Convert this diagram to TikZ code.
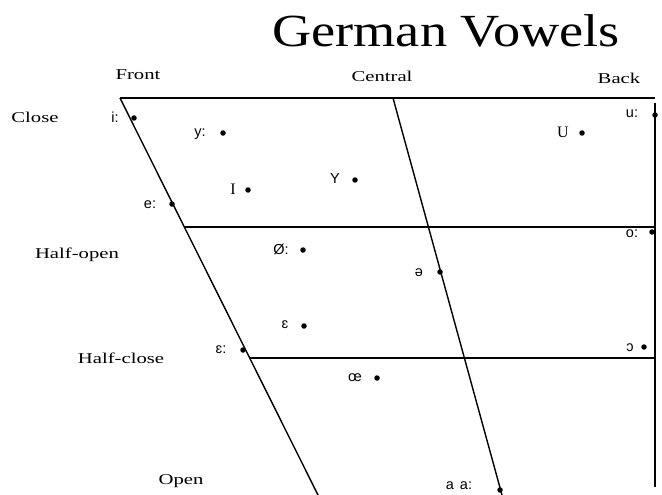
\documentclass[tikz,border=0pt]{standalone}
\usepackage{fontspec}
\setmainfont{Liberation Serif}
\newfontfamily\ipafont{Liberation Sans}
\begin{document}
\begin{tikzpicture}[x=1pt,y=-1pt,
  chartline/.style={line width=1.4pt,black},
  vdot/.style={circle,fill=black,inner sep=0pt,minimum size=5.5pt},
  ipa/.style={inner sep=0pt,font=\ipafont\fontsize{14.5}{14.5}\selectfont},
  ipaserif/.style={inner sep=0pt,font=\fontsize{16}{16}\selectfont},
  axislabel/.style={inner sep=0pt,font=\fontsize{15}{15}\selectfont,xscale=1.38,transform shape},
  titlelabel/.style={inner sep=0pt,font=\fontsize{46}{46}\selectfont,xscale=1.18,transform shape}]
\useasboundingbox[fill=white] (0,0) rectangle (662,495);
% frame coordinates
\coordinate (TL) at (120,98);
\coordinate (TR) at (655,98);
\coordinate (RT) at (655,103);
\coordinate (RB) at (655,487);
\coordinate (LB) at (318,495);
\coordinate (CT) at (393,98);
\coordinate (CB) at (502,495);
\coordinate (H1L) at (184,227);
\coordinate (H1R) at (655,227);
\coordinate (H2L) at (250,358);
\coordinate (H2R) at (655,358);
\draw[chartline] (TL) -- (TR);
\draw[chartline] (RT) -- (RB);
\draw[chartline] (TL) -- (LB);
\draw[chartline] (CT) -- (CB);
\draw[chartline] (H1L) -- (H1R);
\draw[chartline] (H2L) -- (H2R);
% title and axis labels
\node[titlelabel] (title) at (446,31) {German Vowels};
\node[axislabel] (front) at (138,75) {Front};
\node[axislabel] (central) at (382,76) {Central};
\node[axislabel] (back) at (619,78) {Back};
\node[axislabel] (close) at (35,117) {Close};
\node[axislabel] (halfopen) at (77,255) {Half-open};
\node[axislabel] (halfclose) at (121,358) {Half-close};
\node[axislabel] (open) at (181,481) {Open};
% vowels
\node[vdot] (di) at (134,118) {};
\node[ipa] (li) at (115,117) {i:};
\node[vdot] (dy) at (223,133) {};
\node[ipa] (ly) at (200,134) {y:};
\node[vdot] (dI) at (248,190) {};
\node[ipaserif] (lI) at (233,189) {I};
\node[vdot] (de) at (172,204) {};
\node[ipa] (le) at (150,205) {e:};
\node[vdot] (dY) at (355,180) {};
\node[ipa] (lY) at (335,179) {Y};
\node[vdot] (dU) at (582,133) {};
\node[ipaserif] (lU) at (563,132) {U};
\node[vdot] (du) at (655,115) {};
\node[ipa] (lu) at (632,114) {u:};
\node[vdot] (doe) at (303,250) {};
\node[ipa] (loe) at (281,249) {Ø:};
\node[vdot] (dschwa) at (440,272) {};
\node[ipa] (lschwa) at (419,273) {ə};
\node[vdot] (do) at (652,232) {};
\node[ipa] (lo) at (632,234) {o:};
\node[vdot] (deps) at (304,326) {};
\node[ipa] (leps) at (285,325) {ɛ};
\node[vdot] (depsl) at (243,350) {};
\node[ipa] (lepsl) at (221,350) {ɛ:};
\node[vdot] (dopen) at (644,347) {};
\node[ipa] (lopen) at (630,348) {ɔ};
\node[vdot] (doel) at (377,378) {};
\node[ipa] (loel) at (355,378) {œ};
\node[vdot] (da) at (500,490) {};
\node[ipa] (la) at (459,486) {a\hspace{6pt}a:};
\end{tikzpicture}
\end{document}
